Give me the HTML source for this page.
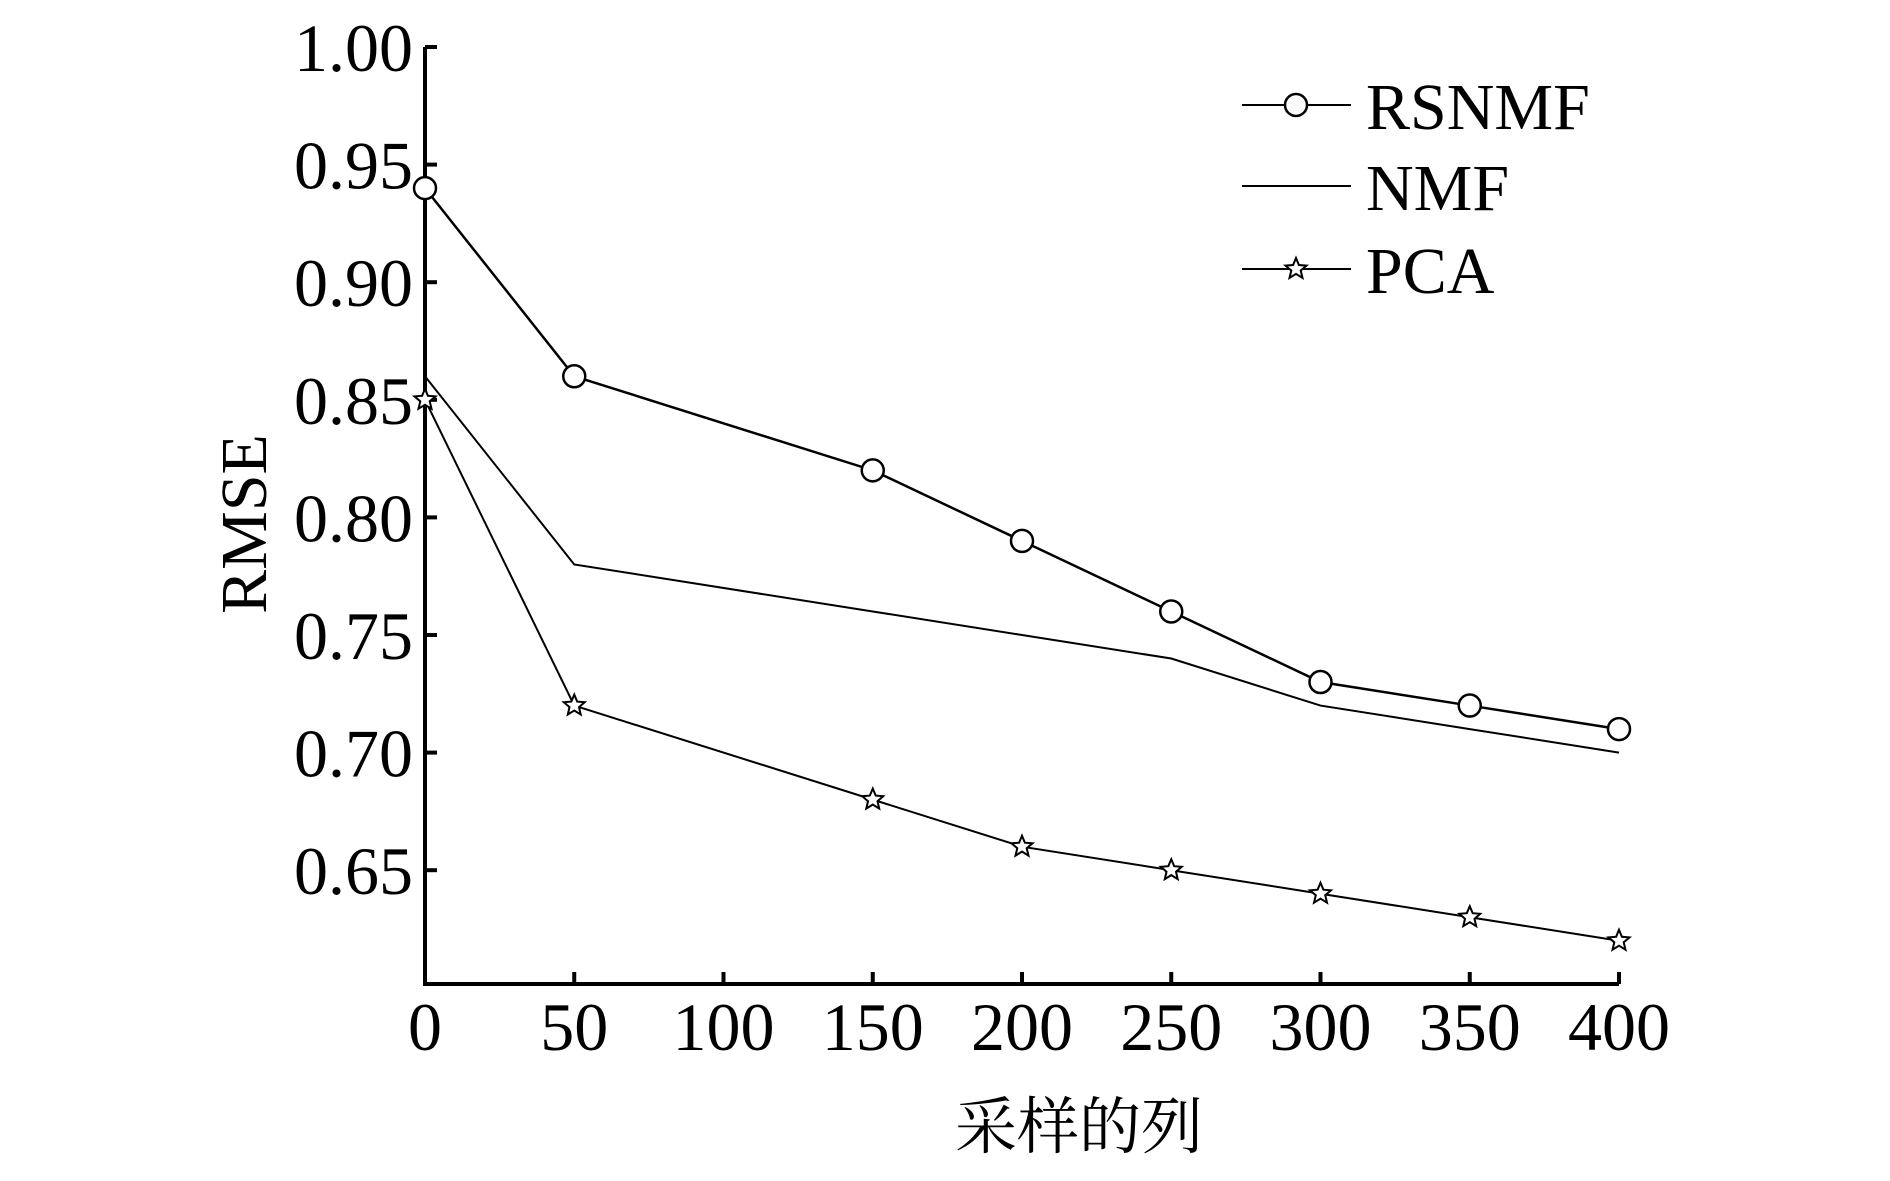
<!DOCTYPE html>
<html><head><meta charset="utf-8"><style>
html,body{margin:0;padding:0;background:#fff;}
svg{display:block;font-family:"Liberation Serif","Noto Serif CJK SC",serif;}
</style></head><body>
<svg id="chart" width="1890" height="1181" viewBox="0 0 1890 1181"></svg>
<script>
const xValues=[0,50,150,200,250,300,350,400];
const rsnmf=[0.94,0.86,0.82,0.79,0.76,0.73,0.72,0.71];
const nmf=[0.86,0.78,0.76,0.75,0.74,0.72,0.71,0.70];
const pca=[0.85,0.72,0.68,0.66,0.65,0.64,0.63,0.62];
const xTicks=[0,50,100,150,200,250,300,350,400];
const yTicks=[0.65,0.70,0.75,0.80,0.85,0.90,0.95,1.00];
const NS="http://www.w3.org/2000/svg";
const svg=document.getElementById('chart');
const X0=425,YBOT=984;
const sx=v=>X0+v*2.985;
const sy=v=>47+(1.00-v)/0.05*117.6;
function el(t,a,p){const e=document.createElementNS(NS,t);for(const k in a)e.setAttribute(k,a[k]);(p||svg).appendChild(e);return e;}
const ax=el('path',{d:`M${X0} 47 V${YBOT} H${sx(400)}`,fill:'none',stroke:'#000','stroke-width':4});


yTicks.forEach(v=>{
  const t=el('line',{x1:X0,x2:X0+12,y1:sy(v),y2:sy(v),stroke:'#000','stroke-width':4});
  
  
  const l=el('text',{x:413,y:sy(v)+24,'text-anchor':'end','font-size':68});
  
  
  l.textContent=v.toFixed(2);
});
xTicks.forEach(v=>{
  if(v>0){const t=el('line',{x1:sx(v),x2:sx(v),y1:YBOT,y2:YBOT-12,stroke:'#000','stroke-width':4});
  
  }
  const l=el('text',{x:sx(v),y:1050,'text-anchor':'middle','font-size':68});
  
  
  l.textContent=v;
});
const yt=el('text',{x:0,y:0,'text-anchor':'middle','font-size':66,transform:'translate(266,524) rotate(-90)'});


yt.textContent='RMSE';
const xt=el('text',{x:1079,y:1148,'text-anchor':'middle','font-size':62});


xt.textContent='采样的列';
function star(cx,cy,r){let d='';for(let i=0;i<10;i++){const a=-Math.PI/2+i*Math.PI/5;const rr=i%2?r*0.45:r;d+=(i?'L':'M')+(cx+rr*Math.cos(a)).toFixed(1)+' '+(cy+rr*Math.sin(a)).toFixed(1);}return d+'Z';}
function series(vals,name,marker,width){
  const g=el('g',{});
  
  
  const p=el('polyline',{points:vals.map((v,i)=>sx(xValues[i])+','+sy(v)).join(' '),fill:'none',stroke:'#000','stroke-width':width},g);
  
  
  vals.forEach((v,i)=>{
    let m=null;
    if(marker==='circle')m=el('circle',{cx:sx(xValues[i]),cy:sy(v),r:11,fill:'#fff',stroke:'#000','stroke-width':2.5},g);
    else if(marker==='star')m=el('path',{d:star(sx(xValues[i]),sy(v),11),fill:'#fff',stroke:'#000','stroke-width':2},g);
    if(m){
    }
  });
}
series(nmf,'nmf',null,2);
series(pca,'pca','star',2);
series(rsnmf,'rsnmf','circle',2.5);
const legend=[['RSNMF','circle',105],['NMF',null,186],['PCA','star',269]];
legend.forEach(([n,m,y])=>{
  const g=el('g',{});
  
  
  el('line',{x1:1242,x2:1351,y1:y,y2:y,stroke:'#000','stroke-width':2},g);
  if(m==='circle')el('circle',{cx:1296,cy:y,r:11,fill:'#fff',stroke:'#000','stroke-width':2.5},g);
  if(m==='star')el('path',{d:star(1296,y,11),fill:'#fff',stroke:'#000','stroke-width':2},g);
  const t=el('text',{x:1366,y:y+24,'font-size':66},g);
  t.textContent=n;
});
</script>
</body></html>
